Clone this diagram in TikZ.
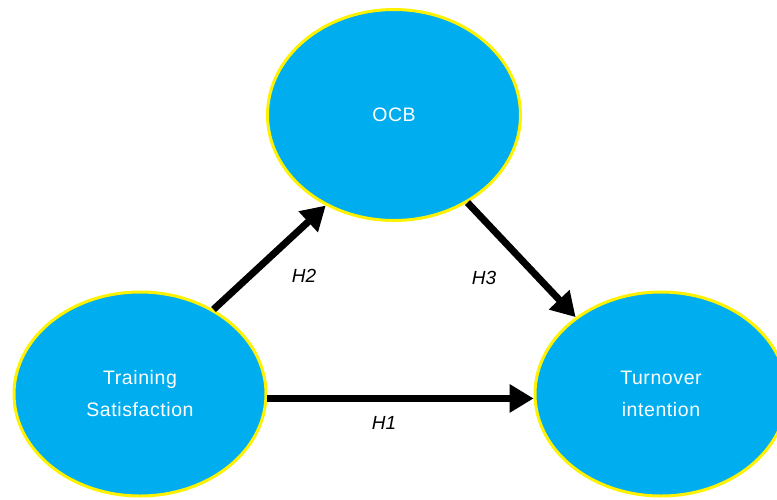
\documentclass[tikz,border=0pt]{standalone}
\usepackage{fontspec}
\setmainfont{Liberation Sans}
\newfontfamily\spacedfont[LetterSpace=3]{Liberation Sans}
\usetikzlibrary{shapes.geometric,arrows.meta}
\definecolor{bubble}{RGB}{0,174,239}
\definecolor{rim}{RGB}{255,242,0}
\tikzset{
  construct/.style={ellipse,draw=rim,line width=3pt,fill=bubble,text=white,
    align=center,inner sep=0pt,font=\spacedfont\fontsize{19.5}{32}\selectfont},
  path/.style={line width=7pt,-{Triangle[length=24pt,width=27pt]}},
  hyp/.style={font=\fontsize{19}{20}\selectfont\itshape}
}
\begin{document}
\begin{tikzpicture}[x=1pt,y=-1pt]
      \useasboundingbox (0,0) rectangle (777,499);
      \draw
        (394,115) node[construct,minimum width=253pt,minimum height=211pt] (ocb){OCB}
        (140,394) node[construct,minimum width=252pt,minimum height=204pt] (train){Training\\Satisfaction}
        (661,394) node[construct,minimum width=252pt,minimum height=204pt] (turn){Turnover\\intention};
      \begin{scope}[path]
        \draw (train.49) to (ocb.233);
        \draw (ocb.310) to (turn.138);
        \draw (train.-2) to (turn.182);
      \end{scope}
      \node[hyp] (h2) at (304,276) {H2};
      \node[hyp] (h3) at (484,278) {H3};
      \node[hyp] (h1) at (384,423) {H1};
    \end{tikzpicture}
\end{document}
